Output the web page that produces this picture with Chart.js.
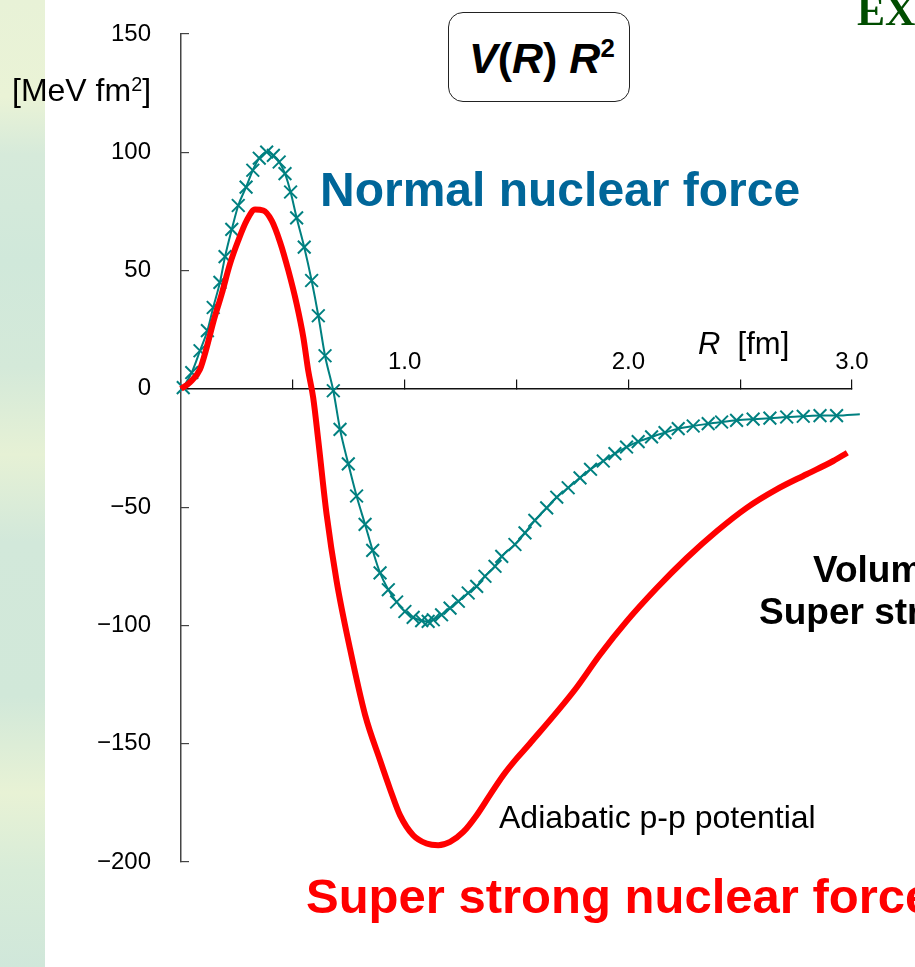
<!DOCTYPE html>
<html>
<head>
<meta charset="utf-8">
<script src="https://cdn.jsdelivr.net/npm/chart.js@4.4.1/dist/chart.umd.min.js"></script>
<style>
  html, body { margin: 0; padding: 0; background: #fff; }
  body { width: 915px; height: 967px; position: relative; overflow: hidden; font-family: "Liberation Sans", Arial, sans-serif; }
  .strip {
    position: absolute; left: 0; top: 0; width: 45px; height: 967px;
    background: linear-gradient(180deg, #e8f2d7 0%, #eaf3d6 10%, #d6eada 16%, #d0e8da 27%, #d4e9d9 38%, #e6f1d5 47%, #d2e8da 56%, #d1e8d9 72%, #e8f2d5 82%, #d8ecd8 90%, #d0e7da 100%);
  }
  #chart { position: absolute; left: 0; top: 0; }
  .lbl { position: absolute; line-height: 1; white-space: nowrap; pointer-events: none; }
  .sup { font-size: 0.62em; position: relative; top: -0.5em; }
  .box {
    position: absolute; left: 448px; top: 12px; width: 180px; height: 88px;
    border: 1.5px solid #222; border-radius: 15px; background: #fff;
  }
</style>
</head>
<body>
<div class="strip"></div>
<canvas id="chart" width="915" height="967"></canvas>

<div class="box"></div>
<div class="lbl" style="left:469px; top:37px; font-size:43px; font-weight:bold;"><i>V</i>(<i>R</i>) <i>R</i><span class="sup" style="font-size:0.6em; top:-0.62em;">2</span></div>
<div class="lbl" style="left:12px; top:74px; font-size:32px;">[MeV fm<span class="sup">2</span>]</div>
<div class="lbl" style="left:320px; top:166px; font-size:48px; font-weight:bold; color:#006699;">Normal nuclear force</div>
<div class="lbl" style="left:698px; top:328px; font-size:31px;"><i>R</i>&nbsp; [fm]</div>
<div class="lbl" style="left:813px; top:551px; font-size:37px; font-weight:bold;">Volume</div>
<div class="lbl" style="left:759px; top:593px; font-size:37px; font-weight:bold;">Super strong</div>
<div class="lbl" style="left:499px; top:801px; font-size:32px;">Adiabatic p-p potential</div>
<div class="lbl" style="left:306px; top:872px; font-size:49px; font-weight:bold; color:#ff0000;">Super strong nuclear force</div>
<div class="lbl" style="left:857px; top:-10px; font-size:42px; font-weight:bold; color:#004d00; font-family:'Liberation Serif', 'Times New Roman', serif;">EX</div>

<script>
// V(R) R^2 [MeV fm^2] against R [fm]
const normalR = [0.01, 0.048, 0.085, 0.118, 0.144, 0.174, 0.197, 0.227, 0.256, 0.291, 0.321, 0.350, 0.383, 0.413,
  0.439, 0.465, 0.490, 0.517, 0.551, 0.584, 0.614, 0.644, 0.681, 0.711, 0.748, 0.785, 0.823, 0.857, 0.890, 0.927,
  0.964, 1.001, 1.038, 1.076, 1.105, 1.128, 1.165, 1.203, 1.240, 1.284, 1.322, 1.359, 1.404, 1.434, 1.493, 1.538,
  1.582, 1.635, 1.680, 1.731, 1.784, 1.831, 1.888, 1.940, 1.992, 2.044, 2.104, 2.164, 2.223, 2.290, 2.357, 2.417,
  2.484, 2.558, 2.633, 2.708, 2.782, 2.857, 2.931, 3.035];
const normalV = [0.5, 6.9, 16.1, 24.6, 34.4, 45.0, 55.9, 67.4, 77.5, 85.3, 92.4, 97.5, 100.1, 98.7,
  95.9, 91.0, 83.2, 72.3, 59.9, 45.8, 30.9, 14.0, -0.8, -17.1, -31.7, -45.3, -57.3, -68.3, -77.8, -84.9,
  -90.1, -94.1, -96.6, -98.0, -98.3, -97.6, -95.5, -92.7, -89.8, -86.3, -83.5, -79.2, -75.0, -70.8, -65.8, -60.9,
  -55.6, -50.3, -45.8, -41.8, -37.6, -34.0, -30.5, -27.4, -24.6, -22.3, -20.3, -18.5, -16.8, -15.7, -14.7, -14.0,
  -13.3, -12.8, -12.4, -11.9, -11.6, -11.3, -11.3, -10.7];

const superR = [0.0, 0.040, 0.085, 0.115, 0.144, 0.182, 0.219, 0.256, 0.294, 0.331, 0.368, 0.405, 0.443, 0.480,
  0.517, 0.547, 0.569, 0.591, 0.614, 0.651, 0.696, 0.755, 0.823, 0.890, 0.934, 0.979, 1.038, 1.098, 1.150, 1.203,
  1.262, 1.322, 1.381, 1.441, 1.501, 1.560, 1.761, 1.873, 1.992, 2.127, 2.261, 2.395, 2.529, 2.663, 2.797, 2.916, 2.979];
const superV = [0.0, 2.7, 8.3, 17.5, 28.1, 40.1, 52.8, 62.7, 71.2, 75.8, 75.4, 71.2, 62.0, 50.0,
  35.9, 21.7, 7.6, -3.7, -22.0, -53.1, -81.4, -109.6, -137.8, -157.0, -169.0, -180.2, -188.7, -192.2, -192.9, -191.5,
  -187.3, -180.2, -171.7, -163.3, -156.2, -149.9, -127.2, -112.4, -98.3, -84.2, -71.5, -60.2, -50.3, -42.5, -36.1, -30.5, -27.0];

const xLabels = [1, 2, 3];
const yMin = -200, yMax = 150, yStep = 50;

const toPoints = (xs, ys) => xs.map((x, i) => ({ x: x, y: ys[i] }));

function initChart() {
  const ctx = document.getElementById('chart');
  const tickFont = { family: "'Liberation Sans', Arial, sans-serif", size: 24 };

  new Chart(ctx, {
    type: 'scatter',
    data: {
      datasets: [
        {
          label: 'Adiabatic p-p potential',
          data: toPoints(superR, superV),
          showLine: true,
          borderColor: '#ff0000',
          borderWidth: 6,
          pointRadius: 0,
          cubicInterpolationMode: 'monotone',
          clip: false
        },
        {
          label: 'Normal nuclear force',
          data: toPoints(normalR, normalV),
          showLine: true,
          borderColor: '#008080',
          borderWidth: 2,
          pointStyle: 'crossRot',
          // last point is just the line running past the axis end
          pointRadius: c => c.dataIndex === normalR.length - 1 ? 0 : 9,
          pointBorderWidth: 2,
          pointBorderColor: '#008080',
          cubicInterpolationMode: 'monotone',
          clip: false
        }
      ]
    },
    options: {
      responsive: false,
      animation: false,
      events: [],
      layout: { padding: { left: 0, right: 63, top: 34, bottom: 105 } },
      plugins: { legend: { display: false }, tooltip: { enabled: false } },
      scales: {
        x: {
          type: 'linear',
          min: 0,
          max: 3,
          position: { y: 0 },
          border: { display: true, color: '#111', width: 1.5 },
          grid: { drawOnChartArea: false, drawTicks: true, tickLength: -10, color: '#111', lineWidth: 1.2 },
          ticks: {
            stepSize: 0.5,
            autoSkip: false,
            maxRotation: 0,
            padding: -31,
            color: '#000',
            font: tickFont,
            callback: v => xLabels.includes(v) ? v.toFixed(1) : ''
          }
        },
        y: {
          type: 'linear',
          min: yMin,
          max: yMax,
          position: 'left',
          afterFit: scale => {
            // fixed axis width; the wide label padding should not push the plot down
            scale.width = 181;
            scale.paddingTop = 0;
            scale.paddingBottom = 0;
          },
          border: { display: true, color: '#444', width: 1.5 },
          grid: { drawOnChartArea: false, drawTicks: true, tickLength: -8, color: '#444', lineWidth: 1.2 },
          ticks: {
            stepSize: yStep,
            padding: 38,
            color: '#000',
            font: tickFont,
            callback: v => v < 0 ? '\u2212' + Math.abs(v) : String(v)
          }
        }
      }
    }
  });
}

document.addEventListener('DOMContentLoaded', initChart);
</script>
</body>
</html>
